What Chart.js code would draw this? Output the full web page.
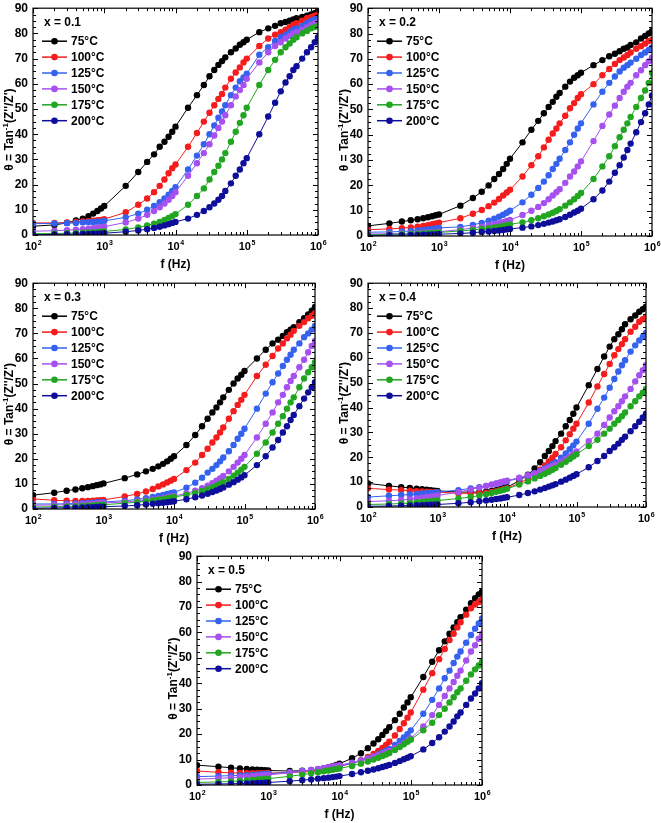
<!DOCTYPE html>
<html>
<head>
<meta charset="utf-8">
<script src="https://cdn.jsdelivr.net/npm/chart.js@4.4.0/dist/chart.umd.min.js"></script>
<style>
    html, body { margin: 0; padding: 0; background: #fff; overflow: hidden; }
    body { width: 661px; height: 823px; position: relative; }
    canvas { position: absolute; }
</style>
</head>
<body>
<script>
// Frequencies (Hz) shared by every series
const freqs = [100, 200, 300, 400, 500, 600, 700, 800, 900, 1e3,
    2e3, 3e3, 4e3, 5e3, 6e3, 7e3, 8e3, 9e3, 1e4,
    1.5e4, 2e4, 2.5e4, 3e4, 3.5e4, 4e4, 4.5e4, 5e4, 6e4, 7e4, 8e4, 9e4, 1e5,
    1.5e5, 2e5, 2.5e5, 3e5, 3.5e5, 4e5, 4.5e5, 5e5, 6e5, 7e5, 8e5, 9e5, 1e6];
const temps = ['75°C', '100°C', '125°C', '150°C', '175°C', '200°C'];
const compositions = ['x = 0.1', 'x = 0.2', 'x = 0.3', 'x = 0.4', 'x = 0.5'];
const decades = [2, 3, 4, 5, 6];

// x = 0.1
const x01_75 = [3.5, 4.0, 4.8, 5.8, 6.5, 7.5, 8.5, 9.5, 10.5, 11.5, 19.5, 25, 29, 32, 35, 37, 39, 41, 43, 50.5, 55.5, 59.5, 63, 65.5, 67.5, 69, 70.5, 72.5, 74, 75.5, 76.5, 77.5, 80.5, 82, 83, 84, 84.5, 85, 85.5, 86, 86.5, 87, 87.5, 88, 88.5];
const x01_100 = [4.8, 4.8, 5.0, 5.2, 5.4, 5.5, 5.7, 5.9, 6.0, 6.3, 9, 12, 14.5, 17, 19.5, 22, 24.5, 26.5, 28, 35, 40.5, 45, 48.5, 51.5, 54, 56, 58.5, 62, 64.5, 66.5, 68.5, 70, 75, 78, 79.5, 80.5, 81.5, 82.5, 83.5, 84, 85, 86, 86.5, 87, 87.5];
const x01_125 = [4.5, 4.6, 4.7, 4.8, 5.0, 5.1, 5.2, 5.3, 5.4, 5.6, 7, 8.5, 10, 11.5, 13, 14.5, 16, 17.5, 19, 26, 31.5, 36, 40, 43.5, 46.5, 49, 51.5, 55.5, 58.5, 61, 62.5, 64, 71.5, 74.5, 77, 78.5, 79.5, 80.5, 81.5, 82, 83, 84, 85, 85.5, 86];
const x01_150 = [1.5, 1.7, 1.9, 2.1, 2.3, 2.5, 2.7, 2.9, 3.1, 3.3, 5, 6.5, 8, 9.5, 11, 12.5, 14, 15.5, 17, 23.5, 28.5, 32.5, 36, 39.5, 42.5, 45, 47.5, 51.5, 55, 57.5, 59.5, 62, 68.5, 72.5, 75, 76.5, 78, 79, 80, 80.5, 81.5, 82.5, 83.5, 84, 84.5];
const x01_175 = [0.5, 0.6, 0.7, 0.8, 0.9, 1.0, 1.1, 1.2, 1.3, 1.4, 2.2, 3, 3.8, 4.5, 5.2, 6, 6.8, 7.5, 8.3, 12, 15.5, 18.5, 22, 25, 27.5, 30, 32.5, 37, 41, 44.5, 47.5, 50.5, 59.5, 65.5, 69.5, 72.5, 74.5, 76, 77.5, 78.5, 80, 81, 82, 82.5, 83];
const x01_200 = [0.2, 0.2, 0.3, 0.3, 0.4, 0.4, 0.5, 0.5, 0.6, 0.7, 1.3, 1.8, 2.3, 2.8, 3.3, 3.8, 4.3, 4.8, 5.2, 6.5, 8, 9.5, 11, 12.5, 14, 15.5, 17.5, 20.5, 23.5, 26, 28.5, 30.5, 40, 47, 52.5, 57, 60.5, 63, 65.5, 67, 70, 72.5, 74.5, 76.5, 78.5];

// x = 0.2
const x02_75 = [4, 5, 5.7, 6.2, 6.6, 7, 7.4, 7.8, 8.2, 8.5, 12, 15, 17.5, 20, 22.5, 24.5, 26.5, 28.5, 30.5, 37, 42, 45.5, 48.5, 51, 53, 55, 56.5, 59, 61, 62.5, 63.5, 64.5, 67.5, 69.5, 71, 72, 73, 74, 74.5, 75.5, 76.5, 78, 79, 80, 81];
const x02_100 = [2.5, 2.8, 3.1, 3.4, 3.7, 4, 4.3, 4.7, 5, 5.3, 7, 8.8, 10.3, 11.8, 13.2, 14.6, 16, 17.2, 18.3, 23.5, 28, 31.5, 35, 38, 40.5, 42.5, 44.5, 47.5, 50.5, 52.5, 54.5, 56, 60, 63.5, 66, 68, 69.5, 70.5, 71.5, 72.5, 74, 75, 76, 77, 77.5];
const x02_125 = [1.5, 1.6, 1.8, 2.0, 2.2, 2.4, 2.6, 2.8, 3, 3.2, 3.6, 4.4, 5.2, 6, 6.8, 7.6, 8.4, 9.2, 10, 13.3, 16.3, 19, 21.5, 24, 26.5, 28.5, 30.5, 34, 37, 40, 42.5, 44.5, 52, 57, 60.5, 63, 65, 66.5, 67.5, 68.5, 70, 71.5, 72.5, 73.5, 74.5];
const x02_150 = [0.8, 0.9, 1, 1.1, 1.2, 1.3, 1.4, 1.5, 1.6, 1.7, 2.5, 3.2, 3.7, 4.2, 4.7, 5.1, 5.5, 5.9, 6.3, 8.3, 10, 11.5, 13, 14.5, 16, 17.3, 18.5, 21, 23.5, 25.5, 27.5, 29.5, 37.5, 43.5, 48, 51.5, 54.5, 57, 59, 60.5, 63.5, 65.5, 67.5, 69, 70.5];
const x02_175 = [0.5, 0.6, 0.7, 0.8, 0.9, 1, 1.1, 1.2, 1.3, 1.4, 2, 2.4, 2.8, 3.1, 3.4, 3.7, 4, 4.3, 4.6, 5.4, 6.2, 7, 7.8, 8.5, 9.2, 9.9, 10.6, 12, 13.3, 14.5, 15.8, 17, 22.5, 27.5, 31.5, 35.5, 39, 42, 44.5, 47, 51, 54.5, 57.5, 60.5, 64.5];
const x02_200 = [0.2, 0.3, 0.3, 0.4, 0.4, 0.5, 0.5, 0.6, 0.6, 0.7, 1, 1.3, 1.6, 1.8, 2, 2.2, 2.4, 2.6, 2.8, 3.3, 3.8, 4.3, 4.8, 5.3, 5.7, 6.2, 6.6, 7.5, 8.4, 9.3, 10, 10.8, 14.5, 18, 21.5, 25, 28, 31, 34, 36.5, 41, 45, 48.5, 52, 55.5];

// x = 0.3
const x03_75 = [5.5, 6.5, 7.3, 7.8, 8.3, 8.7, 9.1, 9.5, 9.8, 10.2, 12.3, 13.8, 15, 16, 17, 18, 19, 20, 21, 25.5, 29.5, 33, 36, 38.5, 40.5, 42.5, 44.5, 47.5, 50, 52, 53.5, 55, 60, 63.5, 66, 67.5, 69, 70.5, 71.5, 72.5, 74.5, 76, 77.5, 79, 80.5];
const x03_100 = [4, 3.5, 3.3, 3.2, 3.2, 3.2, 3.3, 3.4, 3.5, 3.6, 5, 6, 7, 8, 9, 9.8, 10.6, 11.3, 12, 15.5, 18.5, 21.5, 24, 26.5, 28.5, 30.5, 32.5, 36, 39, 41.5, 43.5, 45.5, 53, 57.5, 61, 64, 66, 68, 69.5, 71, 73, 74.5, 76, 77, 78];
const x03_125 = [2, 2, 2.1, 2.2, 2.3, 2.4, 2.5, 2.6, 2.7, 2.8, 3.3, 3.8, 4.3, 4.8, 5.2, 5.6, 6, 6.3, 6.6, 8.5, 10.5, 12.5, 14.5, 16, 17.5, 19, 20.5, 23, 25.5, 28, 30, 32, 40, 46, 50.5, 54, 57, 59.5, 61.5, 63.5, 66, 68.5, 70, 71.5, 73];
const x03_150 = [1.5, 1.6, 1.7, 1.8, 1.9, 2, 2.1, 2.2, 2.3, 2.4, 2.8, 3.2, 3.5, 3.8, 4.1, 4.4, 4.7, 5, 5.2, 6.2, 7.3, 8.3, 9.3, 10.3, 11.3, 12.2, 13.2, 15, 16.8, 18.5, 20, 21.5, 28.5, 34, 38.5, 42.5, 45.5, 48.5, 51, 53, 56.5, 59.5, 62.5, 65, 67];
const x03_175 = [0.8, 0.9, 1, 1.1, 1.2, 1.3, 1.4, 1.5, 1.6, 1.7, 2.3, 2.7, 3.1, 3.4, 3.7, 4, 4.3, 4.5, 4.8, 5.6, 6.4, 7.2, 7.9, 8.6, 9.3, 10, 10.7, 12, 13.3, 14.5, 15.7, 16.8, 22, 26.5, 30.5, 34, 37, 40, 42.5, 44.5, 48.5, 52, 54.5, 56.5, 58.5];
const x03_200 = [0.3, 0.4, 0.5, 0.5, 0.6, 0.7, 0.7, 0.8, 0.9, 0.9, 1.2, 1.5, 1.8, 2.1, 2.3, 2.5, 2.7, 2.9, 3.1, 3.9, 4.7, 5.4, 6.1, 6.8, 7.4, 8, 8.6, 9.7, 10.7, 11.7, 12.6, 13.5, 17.5, 21, 24.5, 27.5, 30.5, 33, 35.5, 37.5, 41, 44, 46.5, 48.5, 50.5];

// x = 0.4
const x04_75 = [9.5, 8.5, 8, 7.7, 7.4, 7.2, 7, 6.8, 6.6, 6.5, 6, 6, 6, 6.2, 6.5, 6.8, 7.2, 7.6, 8, 10.5, 13, 15.5, 18, 20.5, 22.5, 24.5, 26.5, 29.5, 32.5, 35, 37.5, 40, 49, 55.5, 60.5, 64.5, 67.5, 69.5, 71.5, 73.5, 75.5, 77, 78.5, 79.5, 80.5];
const x04_100 = [7.5, 7, 6.8, 6.6, 6.4, 6.3, 6.2, 6.1, 6, 6, 5.5, 5.5, 5.6, 5.8, 6.1, 6.4, 6.8, 7.2, 7.6, 9.5, 11.5, 13.3, 15, 16.7, 18.3, 19.8, 21.3, 24, 26.8, 29.3, 31.5, 33.5, 42, 48.5, 53.5, 57.5, 61, 63.5, 65.5, 67.5, 70.5, 72.5, 74.5, 75.5, 76.5];
const x04_125 = [4, 4.5, 4.8, 5, 5.2, 5.4, 5.6, 5.7, 5.8, 6, 6.8, 7.5, 8, 8.5, 9, 9.4, 9.8, 10.1, 10.4, 11.5, 12.5, 13.5, 14.5, 15.5, 16.3, 17.2, 18, 19.8, 21.5, 23.2, 24.8, 26.3, 33.5, 39.5, 44, 48, 51.5, 54.5, 57, 59, 62.5, 65, 67, 68.5, 70];
const x04_150 = [2.2, 2.5, 2.8, 3.1, 3.4, 3.7, 4, 4.2, 4.4, 4.6, 6, 7, 7.8, 8.5, 9, 9.5, 9.9, 10.3, 10.6, 11.8, 12.8, 13.6, 14.4, 15.1, 15.8, 16.4, 17, 18.2, 19.3, 20.3, 21.3, 22.3, 26.5, 29.5, 33, 36, 38.5, 40.5, 42.5, 44.5, 47.5, 50.5, 53, 55, 57];
const x04_175 = [1, 1.2, 1.4, 1.6, 1.8, 2, 2.2, 2.3, 2.5, 2.6, 3.4, 4, 4.6, 5.1, 5.6, 6.1, 6.5, 6.9, 7.3, 9, 10.3, 11.5, 12.5, 13.4, 14.2, 15, 15.7, 17, 18.2, 19.3, 20.3, 21.2, 24.5, 27, 29.5, 31.5, 33.5, 35, 36.5, 38, 40.5, 42.5, 44.5, 46, 47.5];
const x04_200 = [0.3, 0.4, 0.5, 0.6, 0.7, 0.7, 0.8, 0.9, 0.9, 1, 1.5, 1.9, 2.3, 2.6, 2.9, 3.2, 3.4, 3.7, 3.9, 4.8, 5.6, 6.3, 7, 7.6, 8.2, 8.7, 9.2, 10.2, 11, 11.8, 12.5, 13.2, 16, 18.5, 20.5, 22.5, 24, 25.5, 27, 28.3, 30.5, 32.5, 34.3, 36, 37.5];

// x = 0.5
const x05_75 = [7.8, 7.2, 6.8, 6.5, 6.3, 6.1, 6, 5.9, 5.8, 5.7, 5.5, 5.6, 5.8, 6.1, 6.5, 7, 7.4, 7.9, 8.4, 10.5, 12.5, 14.5, 16.3, 18, 19.7, 21.2, 22.7, 25.5, 28, 30.5, 32.5, 34.5, 42.5, 48.5, 53, 56.5, 59.5, 62, 64, 66, 69, 71.5, 73.5, 75, 76];
const x05_100 = [5.5, 5, 4.8, 4.7, 4.6, 4.6, 4.6, 4.6, 4.6, 4.7, 4.9, 5.1, 5.4, 5.7, 6, 6.3, 6.6, 7, 7.3, 8.5, 9.8, 11, 12.2, 13.4, 14.6, 15.8, 17, 19.5, 22, 24.3, 26.5, 28.5, 37.5, 44, 49.5, 53.5, 57, 59.5, 62, 64, 67, 69.5, 71, 72, 73];
const x05_125 = [3.3, 3.5, 3.7, 3.8, 3.9, 4, 4.1, 4.2, 4.3, 4.4, 5, 5.5, 5.9, 6.2, 6.5, 6.8, 7.1, 7.3, 7.5, 8.5, 9.5, 10.4, 11.2, 12, 12.8, 13.5, 14.2, 15.8, 17.3, 18.7, 20, 21.5, 28, 33.5, 38, 42, 45, 48, 50.5, 52.5, 56, 59, 61.5, 63.5, 65.5];
const x05_150 = [2.3, 2.6, 2.9, 3.1, 3.3, 3.5, 3.7, 3.8, 3.9, 4, 4.8, 5.4, 5.9, 6.3, 6.7, 7, 7.3, 7.6, 7.8, 8.8, 9.7, 10.4, 11.1, 11.7, 12.3, 12.9, 13.4, 14.5, 15.5, 16.5, 17.4, 18.3, 23, 27.5, 31.5, 35, 38, 40.5, 43, 45, 49, 52.5, 55, 57.5, 59.5];
const x05_175 = [1, 1.2, 1.4, 1.6, 1.8, 2, 2.2, 2.3, 2.4, 2.5, 3.4, 4.1, 4.6, 5, 5.4, 5.7, 6, 6.3, 6.5, 7.5, 8.4, 9.2, 10, 10.7, 11.4, 12, 12.6, 13.8, 14.9, 16, 17, 17.8, 21.5, 24.5, 27.5, 30, 32.5, 34.5, 36.5, 38, 41, 43.5, 45.5, 47, 48.5];
const x05_200 = [0.3, 0.4, 0.5, 0.6, 0.6, 0.7, 0.8, 0.8, 0.9, 1, 1.5, 1.9, 2.2, 2.5, 2.7, 2.9, 3.1, 3.3, 3.5, 4.3, 5, 5.6, 6.1, 6.6, 7.1, 7.5, 7.9, 8.7, 9.4, 10.1, 10.7, 11.3, 14, 16.5, 18.8, 21, 23, 25, 27, 28.5, 31.5, 34, 36, 38, 40];

const seriesByPanel = [
    [x01_75, x01_100, x01_125, x01_150, x01_175, x01_200],
    [x02_75, x02_100, x02_125, x02_150, x02_175, x02_200],
    [x03_75, x03_100, x03_125, x03_150, x03_175, x03_200],
    [x04_75, x04_100, x04_125, x04_150, x04_175, x04_200],
    [x05_75, x05_100, x05_125, x05_150, x05_175, x05_200]
];

// Styles and layout (plot area in page pixels: left, top, right, bottom)
const colors = ['#000000', '#f41c1c', '#3462ee', '#a650f0', '#22a622', '#0e0e9a'];
const plotAreas = [
    [33, 6, 318, 235],
    [368, 6, 652, 236],
    [33, 281, 315, 509],
    [368, 281, 646, 507],
    [197, 554, 482, 785]
];
const FONT = "'Liberation Sans', Arial, Helvetica, sans-serif";
const Y_AXIS_W = 33, X_AXIS_H = 40, PAD_TOP = 10, PAD_RIGHT = 14;

Chart.defaults.font.family = FONT;
Chart.defaults.color = '#000';

// Draws frame, inward ticks, x labels, axis titles and the legend box
const framePlugin = {
    id: 'frame',
    afterDatasetsDraw(chart, args, opts) {
        const { ctx, chartArea: a } = chart;
        const xs = chart.scales.x, ys = chart.scales.y;
        ctx.save();
        ctx.strokeStyle = '#000';
        ctx.fillStyle = '#000';

        // tick marks on all four sides
        ctx.lineWidth = 1;
        ctx.beginPath();
        for (let v = 0; v <= 90; v += 2.5) {
            const py = Math.round(ys.getPixelForValue(v)) + 0.5;
            const len = v % 10 === 0 ? 5 : 3;
            ctx.moveTo(a.left, py); ctx.lineTo(a.left + len, py);
            ctx.moveTo(a.right, py); ctx.lineTo(a.right - len, py);
        }
        decades.forEach(e => {
            for (let m = 1; m <= 9; m++) {
                if (e === 6 && m > 1) break;
                const px = Math.round(xs.getPixelForValue(m * Math.pow(10, e))) + 0.5;
                const len = m === 1 ? 5 : 3;
                ctx.moveTo(px, a.bottom); ctx.lineTo(px, a.bottom - len);
                ctx.moveTo(px, a.top); ctx.lineTo(px, a.top + len);
            }
        });
        ctx.stroke();

        ctx.lineWidth = 1.2;
        ctx.strokeRect(a.left, a.top, a.right - a.left, a.bottom - a.top);

        // x tick labels 10^n
        ctx.textBaseline = 'middle';
        ctx.textAlign = 'left';
        decades.forEach(e => {
            const px = xs.getPixelForValue(Math.pow(10, e));
            ctx.font = `bold 11px ${FONT}`;
            const w1 = ctx.measureText('10').width;
            ctx.font = `bold 7px ${FONT}`;
            const w2 = ctx.measureText(String(e)).width;
            const x0 = px - (w1 + w2) / 2;
            ctx.font = `bold 11px ${FONT}`;
            ctx.fillText('10', x0, a.bottom + 12);
            ctx.font = `bold 7px ${FONT}`;
            ctx.fillText(String(e), x0 + w1 + 0.5, a.bottom + 8);
        });

        // x title
        ctx.font = `bold 12px ${FONT}`;
        ctx.textAlign = 'center';
        ctx.fillText('f (Hz)', (a.left + a.right) / 2, a.bottom + 30);

        // y title, rotated, with superscript -1
        ctx.save();
        ctx.translate(a.left - 23, (a.top + a.bottom) / 2 + 8);
        ctx.rotate(-Math.PI / 2);
        ctx.textAlign = 'left';
        const partA = 'θ = Tan', partB = '-1', partC = "(Z''/Z')";
        ctx.font = `bold 12px ${FONT}`;
        const wA = ctx.measureText(partA).width, wC = ctx.measureText(partC).width;
        ctx.font = `bold 8px ${FONT}`;
        const wB = ctx.measureText(partB).width;
        let tx = -(wA + wB + wC) / 2;
        ctx.font = `bold 12px ${FONT}`;
        ctx.fillText(partA, tx, 0);
        tx += wA;
        ctx.font = `bold 8px ${FONT}`;
        ctx.fillText(partB, tx, -4);
        tx += wB;
        ctx.font = `bold 12px ${FONT}`;
        ctx.fillText(partC, tx, 0);
        ctx.restore();

        // legend with composition title
        ctx.textAlign = 'left';
        ctx.font = `bold 12px ${FONT}`;
        ctx.fillText(opts.title, a.left + 11, a.top + 14);
        chart.data.datasets.forEach((ds, i) => {
            const ly = a.top + 33 + i * 15.9;
            ctx.strokeStyle = ds.borderColor;
            ctx.fillStyle = ds.borderColor;
            ctx.lineWidth = 1.5;
            ctx.beginPath();
            ctx.moveTo(a.left + 9, ly);
            ctx.lineTo(a.left + 34, ly);
            ctx.stroke();
            ctx.beginPath();
            ctx.arc(a.left + 21.5, ly, 3.3, 0, Math.PI * 2);
            ctx.fill();
            ctx.fillStyle = '#000';
            ctx.fillText(ds.label, a.left + 38, ly + 0.5);
        });
        ctx.restore();
    }
};

function makePanel(idx) {
    const [L, T, R, B] = plotAreas[idx];
    const canvas = document.createElement('canvas');
    canvas.width = R - L + Y_AXIS_W + PAD_RIGHT;
    canvas.height = B - T + PAD_TOP + X_AXIS_H;
    canvas.style.left = (L - Y_AXIS_W) + 'px';
    canvas.style.top = (T - PAD_TOP) + 'px';
    document.body.appendChild(canvas);

    new Chart(canvas, {
        type: 'line',
        data: {
            datasets: seriesByPanel[idx].map((vals, i) => ({
                label: temps[i],
                data: freqs.map((f, k) => ({ x: f, y: vals[k] })),
                borderColor: colors[i],
                backgroundColor: colors[i],
                pointBackgroundColor: colors[i],
                pointBorderColor: colors[i],
                borderWidth: 1,
                pointRadius: 3.2,
                pointBorderWidth: 0,
                tension: 0,
                order: 6 - i
            }))
        },
        options: {
            responsive: false,
            animation: false,
            devicePixelRatio: 1,
            layout: { padding: { top: PAD_TOP, right: PAD_RIGHT, left: 0, bottom: 0 } },
            plugins: {
                legend: { display: false },
                tooltip: { enabled: false },
                frame: { title: compositions[idx] }
            },
            scales: {
                x: {
                    type: 'logarithmic',
                    min: 100,
                    max: 1e6,
                    ticks: { display: false },
                    grid: { display: false, drawTicks: false },
                    border: { display: false },
                    afterFit: s => { s.height = X_AXIS_H; }
                },
                y: {
                    min: 0,
                    max: 90,
                    ticks: { stepSize: 10, padding: 5, color: '#000', font: { size: 12, weight: 'bold' } },
                    grid: { display: false, drawTicks: false },
                    border: { display: false },
                    afterFit: s => { s.width = Y_AXIS_W; }
                }
            }
        },
        plugins: [framePlugin]
    });
}

plotAreas.forEach((_, i) => makePanel(i));
</script>
</body>
</html>
